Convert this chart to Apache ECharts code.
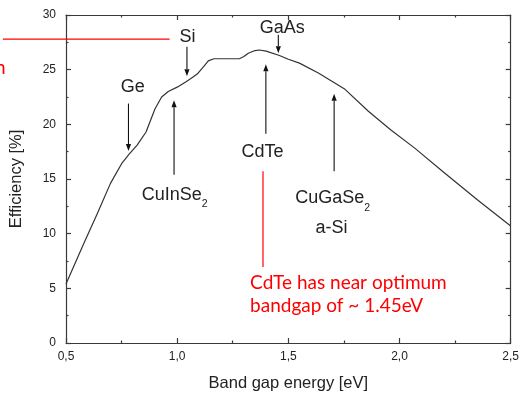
<!DOCTYPE html>
<html><head><meta charset="utf-8">
<script src="https://cdn.jsdelivr.net/npm/echarts@6/dist/echarts.min.js"></script>
<style>html,body{margin:0;padding:0;background:#fff}#c{width:522px;height:397px}</style>
</head><body><div id="c"></div>
<script>
// ---- data ----
const bandGap = [0.5,0.58,0.64,0.70,0.75,0.785,0.82,0.86,0.90,0.93,0.96,1.00,1.04,1.07,1.09,1.12,1.14,1.165,1.20,1.28,1.30,1.32,1.35,1.37,1.40,1.46,1.50,1.55,1.635,1.755,1.86,1.96,2.07,2.20,2.35,2.5];
const efficiency = [5.4,9.1,11.8,14.6,16.4,17.3,18.1,19.3,21.4,22.5,23.0,23.4,23.9,24.3,24.6,25.3,25.8,26.0,26.0,26.0,26.2,26.5,26.75,26.8,26.7,26.3,25.95,25.6,24.7,23.2,21.2,19.5,17.8,15.6,13.1,10.7];
const xRange = [0.5, 2.5];
const yRange = [0, 30];

// material labels (data coordinates)
const labelText = ['Si','Ge','GaAs','CdTe','a-Si'];
const labelX = [1.046, 0.800, 1.4725, 1.384, 1.694];
const labelY = [27.96, 23.44, 28.84, 17.43, 10.5];
// labels with subscript: main text ends at subX
const subText = ['CuInSe','CuGaSe'];
const subX = [1.1106, 1.842];
const subMainY = [13.55, 13.25];
const subDigitY = [12.68, 12.38];

// arrows (x, from y, to y)
const arrowX = [1.044, 0.781, 0.986, 1.455, 1.399, 1.706];
const arrowFrom = [27.1, 21.9, 15.4, 28.2, 19.15, 15.7];
const arrowTo = [24.4, 17.55, 22.2, 26.5, 25.5, 22.8];

// red annotation
const redHLine = {x: [0.216, 0.966], y: 27.8};
const redVLine = {x: 1.386, y: [15.7, 6.96]};
const redLines = ['CdTe has near optimum', 'bandgap of ~ 1.45eV'];
const redTextX = 1.328;
const redTextY = [5.51, 3.43];
const redCutText = {text: 'n', x: 0.228, y: 25.2};

const chart = echarts.init(document.getElementById('c'));
const axisColor = '#3a3a3a';
const fmt = v => v.toFixed(1).replace('.', ',');
const commonX = {
  type: 'value', min: xRange[0], max: xRange[1], interval: 0.5,
  axisLine: {show: true, onZero: false, lineStyle: {color: axisColor, width: 1.2}},
  axisTick: {show: true, inside: true, length: 5, lineStyle: {color: axisColor, width: 1.2}},
  minorTick: {show: true, splitNumber: 2, length: 2.5, lineStyle: {color: axisColor, width: 1.2}},
  splitLine: {show: false}
};
const commonY = {
  type: 'value', min: yRange[0], max: yRange[1], interval: 5,
  axisLine: {show: true, onZero: false, lineStyle: {color: axisColor, width: 1.2}},
  axisTick: {show: true, inside: true, length: 5, lineStyle: {color: axisColor, width: 1.2}},
  minorTick: {show: true, splitNumber: 2, length: 2.5, lineStyle: {color: axisColor, width: 1.2}},
  splitLine: {show: false}
};
chart.setOption({
  animation: false,
  backgroundColor: '#fff',
  grid: {left: 64, right: 8, top: 15, bottom: 50},
  xAxis: [
    Object.assign({}, commonX, {
      position: 'bottom',
      axisLabel: {formatter: fmt, margin: 8, fontSize: 12, color: '#222', fontFamily: 'Liberation Sans'},
      name: 'Band gap energy [eV]', nameLocation: 'middle', nameGap: 32,
      nameTextStyle: {fontSize: 16.5, color: '#222', fontFamily: 'Liberation Sans'}
    }),
    Object.assign({}, commonX, {position: 'top', axisLabel: {show: false}})
  ],
  yAxis: [
    Object.assign({}, commonY, {
      position: 'left',
      axisLabel: {margin: 10, fontSize: 12, color: '#222', fontFamily: 'Liberation Sans'},
      name: 'Efficiency [%]', nameLocation: 'middle', nameGap: 41,
      nameTextStyle: {fontSize: 16.5, color: '#222', fontFamily: 'Liberation Sans'}
    }),
    Object.assign({}, commonY, {position: 'right', axisLabel: {show: false}})
  ],
  series: [{
    type: 'line', xAxisIndex: 0, yAxisIndex: 0,
    data: bandGap.map((x, i) => [x, efficiency[i]]),
    showSymbol: false, smooth: false,
    lineStyle: {color: '#333', width: 1.2, join: 'round'}
  }]
});

const P = (x, y) => chart.convertToPixel({gridIndex: 0}, [x, y]);
const g = [];
const labFont = {fontSize: 18, fontFamily: 'Liberation Sans', fill: '#222'};
labelText.forEach((t, i) => {
  const p = P(labelX[i], labelY[i]);
  g.push({type: 'text', x: p[0], y: p[1], z: 10, style: Object.assign({text: t, align: 'center', verticalAlign: 'middle'}, labFont)});
});
subText.forEach((t, i) => {
  const p = P(subX[i], subMainY[i]);
  g.push({type: 'text', x: p[0], y: p[1], z: 10, style: Object.assign({text: t, align: 'right', verticalAlign: 'middle'}, labFont)});
  const q = P(subX[i], subDigitY[i]);
  g.push({type: 'text', x: q[0], y: q[1], z: 10, style: {text: '2', align: 'left', verticalAlign: 'middle', fontSize: 10.5, fontFamily: 'Liberation Sans', fill: '#222'}});
});
arrowX.forEach((x, i) => {
  const a = P(x, arrowFrom[i]), b = P(x, arrowTo[i]);
  const dir = b[1] > a[1] ? 1 : -1;
  const hl = 7, hw = 2.6;
  g.push({type: 'line', z: 10, shape: {x1: a[0], y1: a[1], x2: b[0], y2: b[1] - dir * hl}, style: {stroke: '#111', lineWidth: 1.1}});
  g.push({type: 'polygon', z: 10, shape: {points: [[b[0], b[1]], [b[0] - hw, b[1] - dir * hl], [b[0] + hw, b[1] - dir * hl]]}, style: {fill: '#111'}});
});
const h1 = P(redHLine.x[0], redHLine.y), h2 = P(redHLine.x[1], redHLine.y);
g.push({type: 'line', z: 10, shape: {x1: h1[0], y1: h1[1], x2: h2[0], y2: h2[1]}, style: {stroke: '#ff0000', lineWidth: 1.2}});
const v1 = P(redVLine.x, redVLine.y[0]), v2 = P(redVLine.x, redVLine.y[1]);
g.push({type: 'line', z: 10, shape: {x1: v1[0], y1: v1[1], x2: v2[0], y2: v2[1]}, style: {stroke: '#ff0000', lineWidth: 1.2}});
redLines.forEach((t, i) => {
  const p = P(redTextX, redTextY[i]);
  g.push({type: 'text', x: p[0], y: p[1], z: 10, style: {text: t, align: 'left', verticalAlign: 'middle', fontSize: 19, fontFamily: 'Lato', fill: '#ff0000'}});
});
const c = P(redCutText.x, redCutText.y);
g.push({type: 'text', x: c[0], y: c[1], z: 10, style: {text: redCutText.text, align: 'right', verticalAlign: 'middle', fontSize: 19, fontFamily: 'Lato', fill: '#ff0000'}});
chart.setOption({graphic: g});
</script>
</body></html>
